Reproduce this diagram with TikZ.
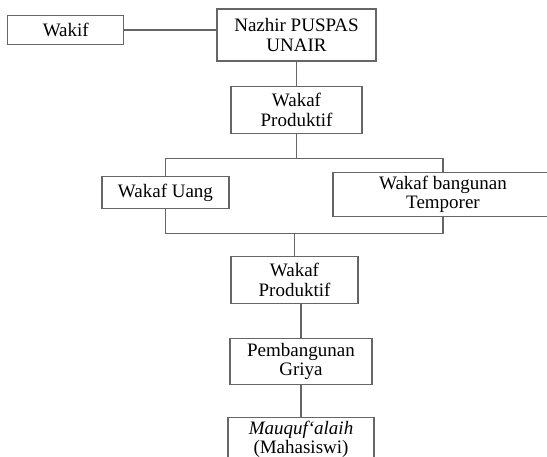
\documentclass[tikz,border=0pt]{standalone}
\usepackage{fontspec}
\setmainfont{Liberation Serif}
\usetikzlibrary{positioning}

\begin{document}
\begin{tikzpicture}[
  x=1pt, y=1pt,
  box/.style={rectangle, draw=black!60, line width=1.2pt, fill=white, align=center, inner sep=2pt, text=black, font=\fontsize{19}{19.5}\selectfont},
  line/.style={draw=black!60, line width=1.2pt}
]
  \clip (0,0) rectangle (547,-457);

  \node[box, minimum width=159pt, minimum height=52pt] (nazhir) at (296.5,-35) {Nazhir PUSPAS\\UNAIR};
  \node[box, minimum width=116pt, minimum height=29pt, left=92pt of nazhir, yshift=5pt] (wakif) {Wakif};
  \node[box, minimum width=131pt, minimum height=47pt, below=24pt of nazhir] (prod1) {Wakaf\\Produktif};

  \node[box, minimum width=127pt, minimum height=32pt, below=42pt of prod1, xshift=-131pt] (uang) {Wakaf Uang};
  \node[box, minimum width=220pt, minimum height=44pt, below=38pt of prod1, xshift=146.5pt] (bangunan) {Wakaf bangunan\\Temporer};

  \node[box, minimum width=127pt, minimum height=47pt, below=122pt of prod1, xshift=-2pt] (prod2) {Wakaf\\Produktif};
  \node[box, minimum width=142pt, minimum height=46pt, below=34pt of prod2, xshift=6.5pt] (griya) {Pembangunan\\Griya};
  \node[box, minimum width=146pt, minimum height=43pt, below=32pt of griya] (mauquf) {\textit{Mauquf‘alaih}\\(Mahasiswi)};

  \coordinate[below=25pt of prod1.south] (split);
  \coordinate[below=100pt of prod1.south] (merge);

  \draw[line] (wakif.east) -- (wakif.east -| nazhir.west);
  \draw[line] (nazhir.south) -- (prod1.north);
  \draw[line] (prod1.south) -- (split);
  \draw[line] (uang.north) |- (split) -| (bangunan.north);
  \draw[line] (uang.south) |- (merge) -| (bangunan.south);
  \draw[line] (prod2.north |- merge) -- (prod2.north);
  \draw[line] (griya.north |- prod2.south) -- (griya.north);
  \draw[line] (griya.south) -- (mauquf.north);
\end{tikzpicture}
\end{document}
